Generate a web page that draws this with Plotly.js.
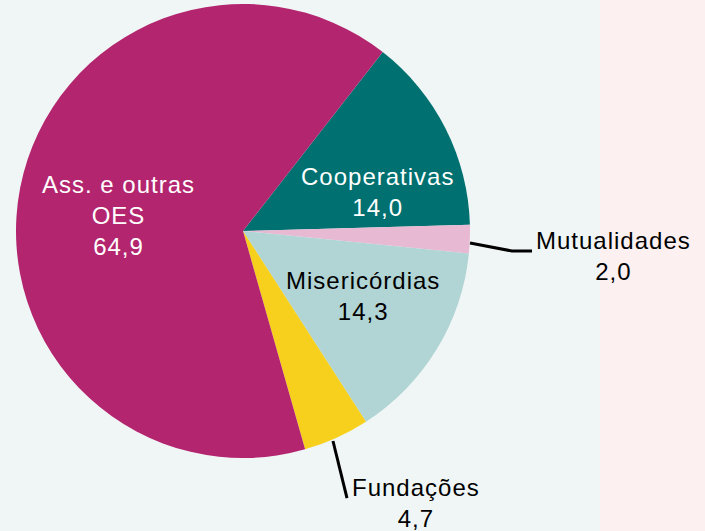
<!DOCTYPE html>
<html>
<head>
<meta charset="utf-8">
<script src="https://cdn.plot.ly/plotly-3.0.1.min.js"></script>
<style>html,body{margin:0;padding:0;background:#F0F6F6;}#chart{width:705px;height:531px;}
.annotation-text{letter-spacing:1px;}</style>
</head>
<body>
<div id="chart"></div>
<script>
// Data
const categories = ['Cooperativas', 'Mutualidades', 'Misericórdias', 'Fundações', 'Ass. e outras OES'];
const displayNames = ['Cooperativas', 'Mutualidades', 'Misericórdias', 'Fundações', 'Ass. e outras<br>OES'];
const shares = [14.0, 2.0, 14.3, 4.7, 64.9];
const sliceColors = ['#007070', '#E8B9D3', '#B1D4D4', '#F6D01C', '#B3256E'];
const labelColors = ['#FFFFFF', '#000000', '#000000', '#000000', '#FFFFFF'];

const W = 705, H = 531;
// label centers in pixels (layout)
const labelPos = [[377, 192], [613, 256], [363, 296], [416, 503], [118, 215]];

function fmt(v) { return v.toFixed(1).replace('.', ','); }

const trace = {
  type: 'pie',
  labels: categories,
  values: shares,
  sort: false,
  direction: 'clockwise',
  rotation: 38,
  textinfo: 'none',
  hoverinfo: 'label+value',
  marker: { colors: sliceColors, line: { width: 0 } },
  domain: { x: [16 / W, 470 / W], y: [(H - 458) / H, (H - 4) / H] },
  showlegend: false
};

const annotations = categories.map((c, i) => ({
  xref: 'paper', yref: 'paper',
  x: labelPos[i][0] / W, y: 1 - labelPos[i][1] / H,
  xanchor: 'center', yanchor: 'middle',
  text: displayNames[i] + '<br>' + fmt(shares[i]),
  showarrow: false,
  font: { family: 'Liberation Sans, Arial, sans-serif', size: 24, color: labelColors[i] }
}));

function px(x, y) { return (x / W).toFixed(4) + ',' + (1 - y / H).toFixed(4); }

const shapes = [
  { type: 'rect', xref: 'paper', yref: 'paper', x0: 600 / W, x1: 1, y0: 0, y1: 1,
    fillcolor: '#FCF0F0', line: { width: 0 }, layer: 'below' },
  { type: 'path', xref: 'paper', yref: 'paper',
    path: 'M' + px(470, 243) + ' L' + px(512, 251) + ' L' + px(532, 251),
    line: { color: '#000000', width: 3 } },
  { type: 'path', xref: 'paper', yref: 'paper',
    path: 'M' + px(333, 441) + ' L' + px(347, 498),
    line: { color: '#000000', width: 3 } }
];

const layout = {
  width: W, height: H,
  margin: { l: 0, r: 0, t: 0, b: 0 },
  paper_bgcolor: '#F0F6F6',
  plot_bgcolor: '#F0F6F6',
  annotations: annotations,
  shapes: shapes,
  showlegend: false
};

Plotly.newPlot('chart', [trace], layout, { displayModeBar: false, staticPlot: true });
</script>
</body>
</html>
